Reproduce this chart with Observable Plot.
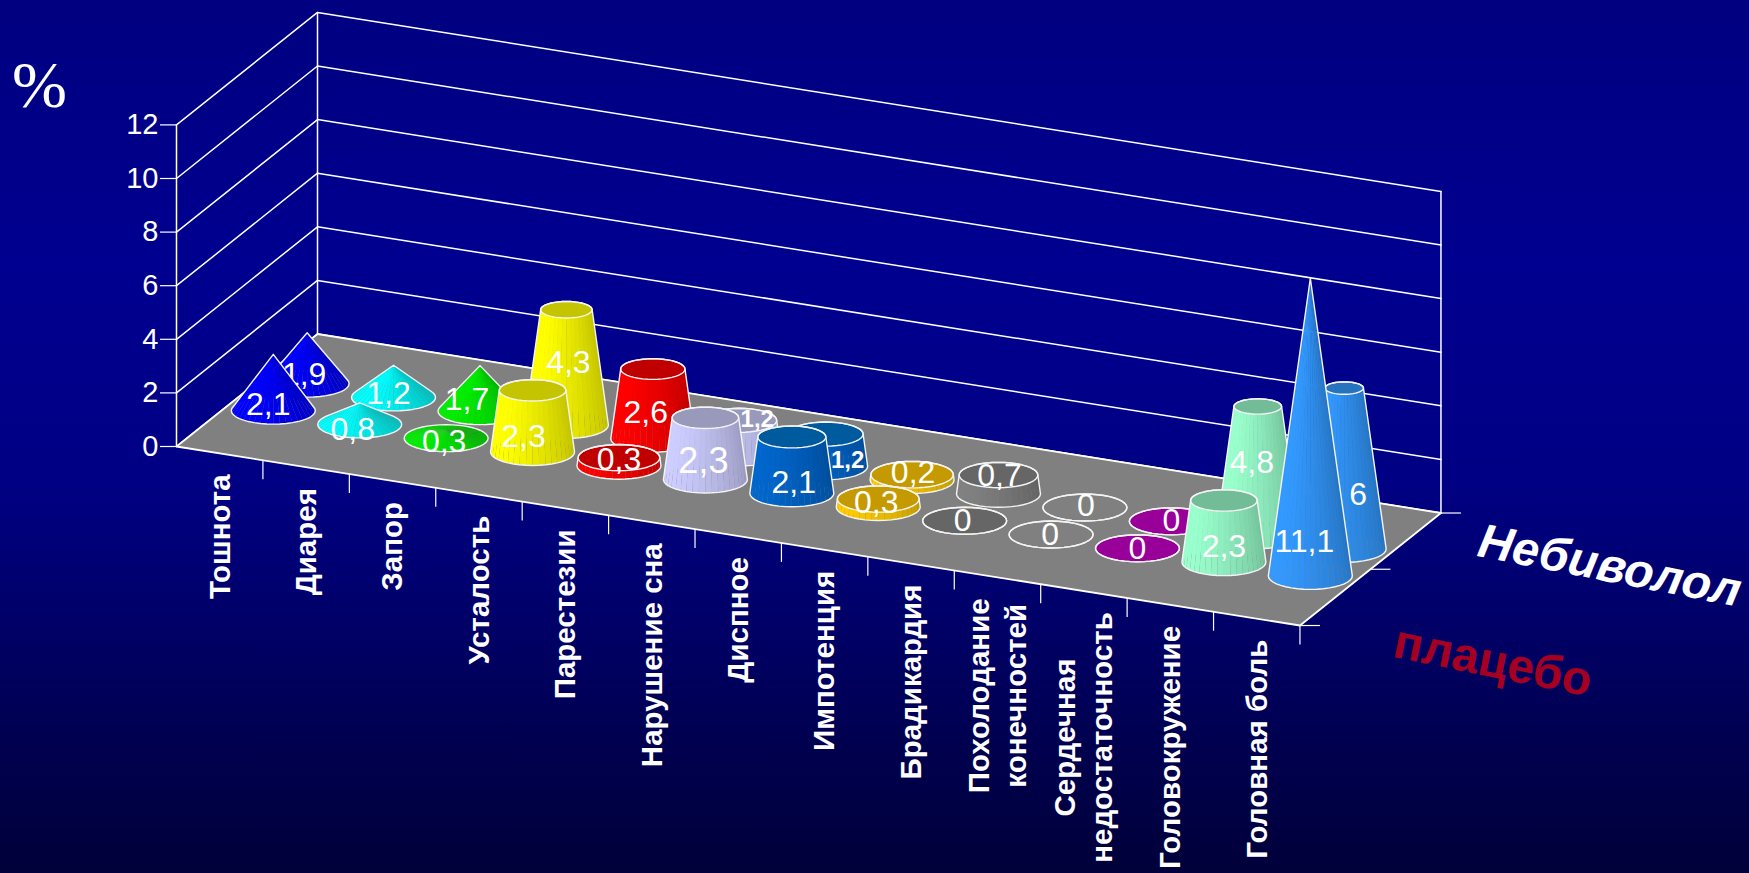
<!DOCTYPE html>
<html lang="ru">
<head>
<meta charset="utf-8">
<title>Нежелательные явления: небиволол и плацебо</title>
<script src="https://cdn.jsdelivr.net/npm/d3@7"></script>
<script src="https://cdn.jsdelivr.net/npm/@observablehq/plot@0.6"></script>
<style>
  html, body { margin: 0; padding: 0; overflow: hidden; }
  body {
    width: 1749px; height: 873px;
    background: linear-gradient(to bottom, #000080 0%, #000090 30%, #000084 55%, #000050 85%, #00003a 100%);
  }
  svg { display: block; background: transparent; }
</style>
</head>
<body>
<div id="chart"></div>
<script>
// Adverse events, % of patients
const categories = ["Тошнота", "Диарея", "Запор", "Усталость", "Парестезии", "Нарушение сна", "Диспное",
  "Импотенция", "Брадикардия", "Похолодание\nконечностей", "Сердечная\nнедостаточность", "Головокружение", "Головная боль"];
const placebo = [2.1, 0.8, 0.3, 2.3, 0.3, 2.3, 2.1, 0.3, 0, 0, 0, 2.3, 11.1];
const nebivolol = [1.9, 1.2, 1.7, 4.3, 2.6, 1.2, 1.2, 0.2, 0.7, 0, 0, 4.8, 6];
const valueTicks = [0, 2, 4, 6, 8, 10, 12];

// Per-category palette: wall colour and lid colour
const sideColors = ["#0000ff", "#00ffff", "#00f000", "#ffff00", "#ff0000", "#ccccff", "#0066cc",
  "#ffcc00", "#808080", "#808080", "#990099", "#99ffcc", "#3399ff"];
const topColors = ["#0000c0", "#00c0c0", "#00b000", "#c4c400", "#c00000", "#9999bb", "#005a9e",
  "#c49a00", "#666666", "#808080", "#990099", "#72bd98", "#2673bf"];
const coneCount = 3; // the first categories taper to a point

// Hand placement of the value labels, in pixels from the foot of each column
const placeboLabelDx = [-5, -7, -2, -9, 0, -2, 2, -2, -2, -1, 0, 0, -6];
const placeboLabelLift = [6, -5, -4, 15, 6, 18, 11, 4, 0, 0, 0, 15, 34];
const nebivololLabelDx = [-3, -5, -13, 2, -7, 18, 22, 1, 1, 1, 0, -6, 14];
const nebivololLabelLift = [9, 4, 11, 62, 26, 33, 6, 7, 18, 2, 1, 72, 54];
const smallLabels = [[0, 5], [0, 6]]; // row, category: squeezed between neighbours
const largeLabels = [[1, 5]];

// Oblique projection of (category, depth, value) onto the two plot scales
const W = 1749, H = 873;
const PX_PER_CAT = 86.42, PX_PER_VALUE = 26.8, ORIGIN_X = 176, ORIGIN_Y = 446;
const DEPTH_X = 141 / PX_PER_CAT, DEPTH_Y = 112.5 / PX_PER_VALUE, SLOPE = 13.77 / PX_PER_VALUE;
const X = (c, d) => c + d * DEPTH_X;
const Y = (c, d, v) => v + d * DEPTH_Y - c * SLOPE;
const N = categories.length;
const RX = 42 / PX_PER_CAT, RY = 13.5 / PX_PER_VALUE;
const APEX = d3.max(placebo.concat(nebivolol));

const rows = [
  {name: "Небиволол", values: nebivolol, depth: 0.62, dxs: nebivololLabelDx, lifts: nebivololLabelLift},
  {name: "плацебо", values: placebo, depth: 0.38, dxs: placeboLabelDx, lifts: placeboLabelLift}
];

const shade = (color, k) => {
  const c = d3.rgb(color);
  return d3.rgb(c.r * k, c.g * k, c.b * k).formatHex();
};
// Lit from the front left
const brightness = (a) => 0.76 + 0.24 * (-0.8 * Math.cos(a) + 0.3 * Math.sin(a) + 0.8) / 1.6;

function columnGeometry(rowIndex, i) {
  const row = rows[rowIndex], v = row.values[i];
  const c = i + 0.5, d = row.depth;
  const taper = i < coneCount ? 0 : 1 - v / APEX;
  const at = (a, scale, h) => ({
    x: X(c, d) + RX * scale * Math.cos(a),
    y: Y(c, d, h) - RY * scale * Math.sin(a)
  });
  const steps = 40, faces = [], lid = [];
  const angles = d3.range(steps).map((k) => (k / steps) * 2 * Math.PI);
  if (v > 0) {
    // back facets first so the front ones cover them
    angles.slice().sort((a, b) => Math.sin(a) - Math.sin(b)).forEach((a, k) => {
      const b = a + (2 * Math.PI) / steps;
      const fill = shade(sideColors[i], brightness(a + Math.PI / steps));
      const id = `${rowIndex}-${i}-${k}`;
      [at(a, 1, 0), at(b, 1, 0), at(b, taper, v), at(a, taper, v)].forEach((p) => faces.push({...p, id, fill}));
    });
  }
  if (taper > 0) {
    angles.forEach((a) => lid.push({...at(a, taper, v), id: `${rowIndex}-${i}-lid`, fill: topColors[i]}));
  }
  // Silhouette: hull of the foot ring and the lid ring
  const ring = angles.map((a) => at(a, 1, 0)).concat(angles.map((a) => at(a, taper, v)));
  const hull = d3.polygonHull(ring.map((p) => [p.x, p.y])).map(([x, y]) => ({x, y, id: `${rowIndex}-${i}`}));
  hull.push(hull[0]);
  const lidEdge = lid.length ? [...lid, lid[0]] : [];
  return {faces: [...faces, ...lid], hull, lidEdge};
}

const labelText = (v) => String(v).replace(".", ",");

function rowMarks(rowIndex) {
  const row = rows[rowIndex];
  const geo = categories.map((_, i) => columnGeometry(rowIndex, i));
  const inList = (list, i) => list.some(([r, k]) => r === rowIndex && k === i);
  const labels = row.values.map((v, i) => ({
    text: labelText(v),
    i,
    size: inList(largeLabels, i) ? 36 : 32,
    x: X(i + 0.5, row.depth) + row.dxs[i] / PX_PER_CAT,
    y: Y(i + 0.5, row.depth, 0) + row.lifts[i] / PX_PER_VALUE
  }));
  const edge = {x: "x", y: "y", z: "id", stroke: "#f4f4f4", strokeWidth: 1.4, fill: "none"};
  return [
    Plot.line(geo.flatMap((g) => g.faces), {x: "x", y: "y", z: "id", fill: "fill", stroke: "none"}),
    Plot.line(geo.flatMap((g) => g.hull), edge),
    Plot.line(geo.flatMap((g) => g.lidEdge), edge),
    Plot.text(labels.filter((l) => !inList(smallLabels, l.i)), {x: "x", y: "y", text: "text", fill: "white",
      fontSize: "size", fontFamily: "Liberation Sans"}),
    Plot.text(labels.filter((l) => inList(smallLabels, l.i)), {x: "x", y: "y", text: "text", fill: "white",
      fontSize: 24, fontWeight: "bold", fontFamily: "Liberation Sans"})
  ];
}

// Wall grid: each value runs from the front left corner, to the back, then along the back wall
const gridLines = valueTicks.flatMap((v) => [
  {x: X(0, 0), y: Y(0, 0, v), v}, {x: X(0, 1), y: Y(0, 1, v), v}, {x: X(N, 1), y: Y(N, 1, v), v}
]);
const topValue = valueTicks[valueTicks.length - 1];
const uprights = [[0, 0], [0, 1], [N, 1]].flatMap(([c, d], k) => [
  {x: X(c, d), y: Y(c, d, 0), k}, {x: X(c, d), y: Y(c, d, topValue), k}
]);
const floorEdge = [[0, 0], [N, 0], [N, 1], [0, 1], [0, 0]].map(([c, d]) => ({x: X(c, d), y: Y(c, d, 0)}));
const catTicks = d3.range(1, N + 1).map((c) => ({x: X(c, 0), y1: Y(c, 0, 0), y2: Y(c, 0, 0) - 19 / PX_PER_VALUE}));
const depthTicks = [0, 0.5, 1].map((d) => ({x1: X(N, d), x2: X(N, d) + 20 / PX_PER_CAT, y: Y(N, d, 0)}));

// Category captions hang a fixed gap below the floor edge
const measure = document.createElement("canvas").getContext("2d");
const CAT_FONT = 29.5;
measure.font = `bold ${CAT_FONT}px "Liberation Sans"`;
const catLabels = categories.map((name, i) => {
  const length = d3.max(name.split("\n"), (s) => measure.measureText(s).width);
  return {name, x: X(i + 0.5, 0), y: Y(i + 0.5, 0, 0) - (21 + length / 2) / PX_PER_VALUE};
});

const chart = Plot.plot({
  width: W, height: H,
  margin: 0,
  style: {background: "transparent"},
  x: {axis: null, domain: [-ORIGIN_X / PX_PER_CAT, (W - ORIGIN_X) / PX_PER_CAT], range: [0, W]},
  y: {axis: null, domain: [(ORIGIN_Y - H) / PX_PER_VALUE, ORIGIN_Y / PX_PER_VALUE], range: [H, 0]},
  color: {type: "identity"},
  marks: [
    Plot.line(gridLines, {x: "x", y: "y", z: "v", stroke: "white", strokeWidth: 1.5}),
    Plot.line(uprights, {x: "x", y: "y", z: "k", stroke: "white", strokeWidth: 1.5}),
    Plot.line(floorEdge, {x: "x", y: "y", fill: "#808080", stroke: "white", strokeWidth: 1.8}),
    Plot.link(catTicks, {x1: "x", x2: "x", y1: "y1", y2: "y2", stroke: "white", strokeWidth: 1.2}),
    Plot.link(depthTicks, {x1: "x1", x2: "x2", y1: "y", y2: "y", stroke: "white", strokeWidth: 1.2}),
    Plot.axisY({x: 0, ticks: valueTicks, tickFormat: String, anchor: "left", label: null, tickSize: 16, tickPadding: 2,
      stroke: "white", color: "white", fill: "white", fontSize: 29, fontFamily: "Liberation Sans", strokeWidth: 1.2}),
    ...rowMarks(0),
    ...rowMarks(1),
    Plot.text(catLabels, {x: "x", y: "y", text: "name", rotate: -90, dx: -2, fill: "white", fontSize: CAT_FONT,
      fontWeight: "bold", fontFamily: "Liberation Sans", lineHeight: 1.25, textAnchor: "middle"}),
    Plot.text(["%"], {x: X(0, 0), y: Y(0, 0, topValue), dx: -137, dy: -39, fill: "white", fontSize: 66,
      fontFamily: "Liberation Serif"}),
    Plot.text([rows[0].name], {x: X(N, 0.75), y: Y(N, 0.75, 0), dx: 204, dy: 25, rotate: 11, fill: "white",
      fontSize: 48, fontWeight: "bold", fontStyle: "italic", fontFamily: "Liberation Sans"}),
    Plot.text([rows[1].name], {x: X(N, 0), y: Y(N, 0, 0), dx: 193, dy: 36, rotate: 11.5, fill: "#a50021",
      fontSize: 48, fontWeight: "bold", fontFamily: "Liberation Sans"})
  ]
});
document.getElementById("chart").append(chart);
</script>
</body>
</html>
